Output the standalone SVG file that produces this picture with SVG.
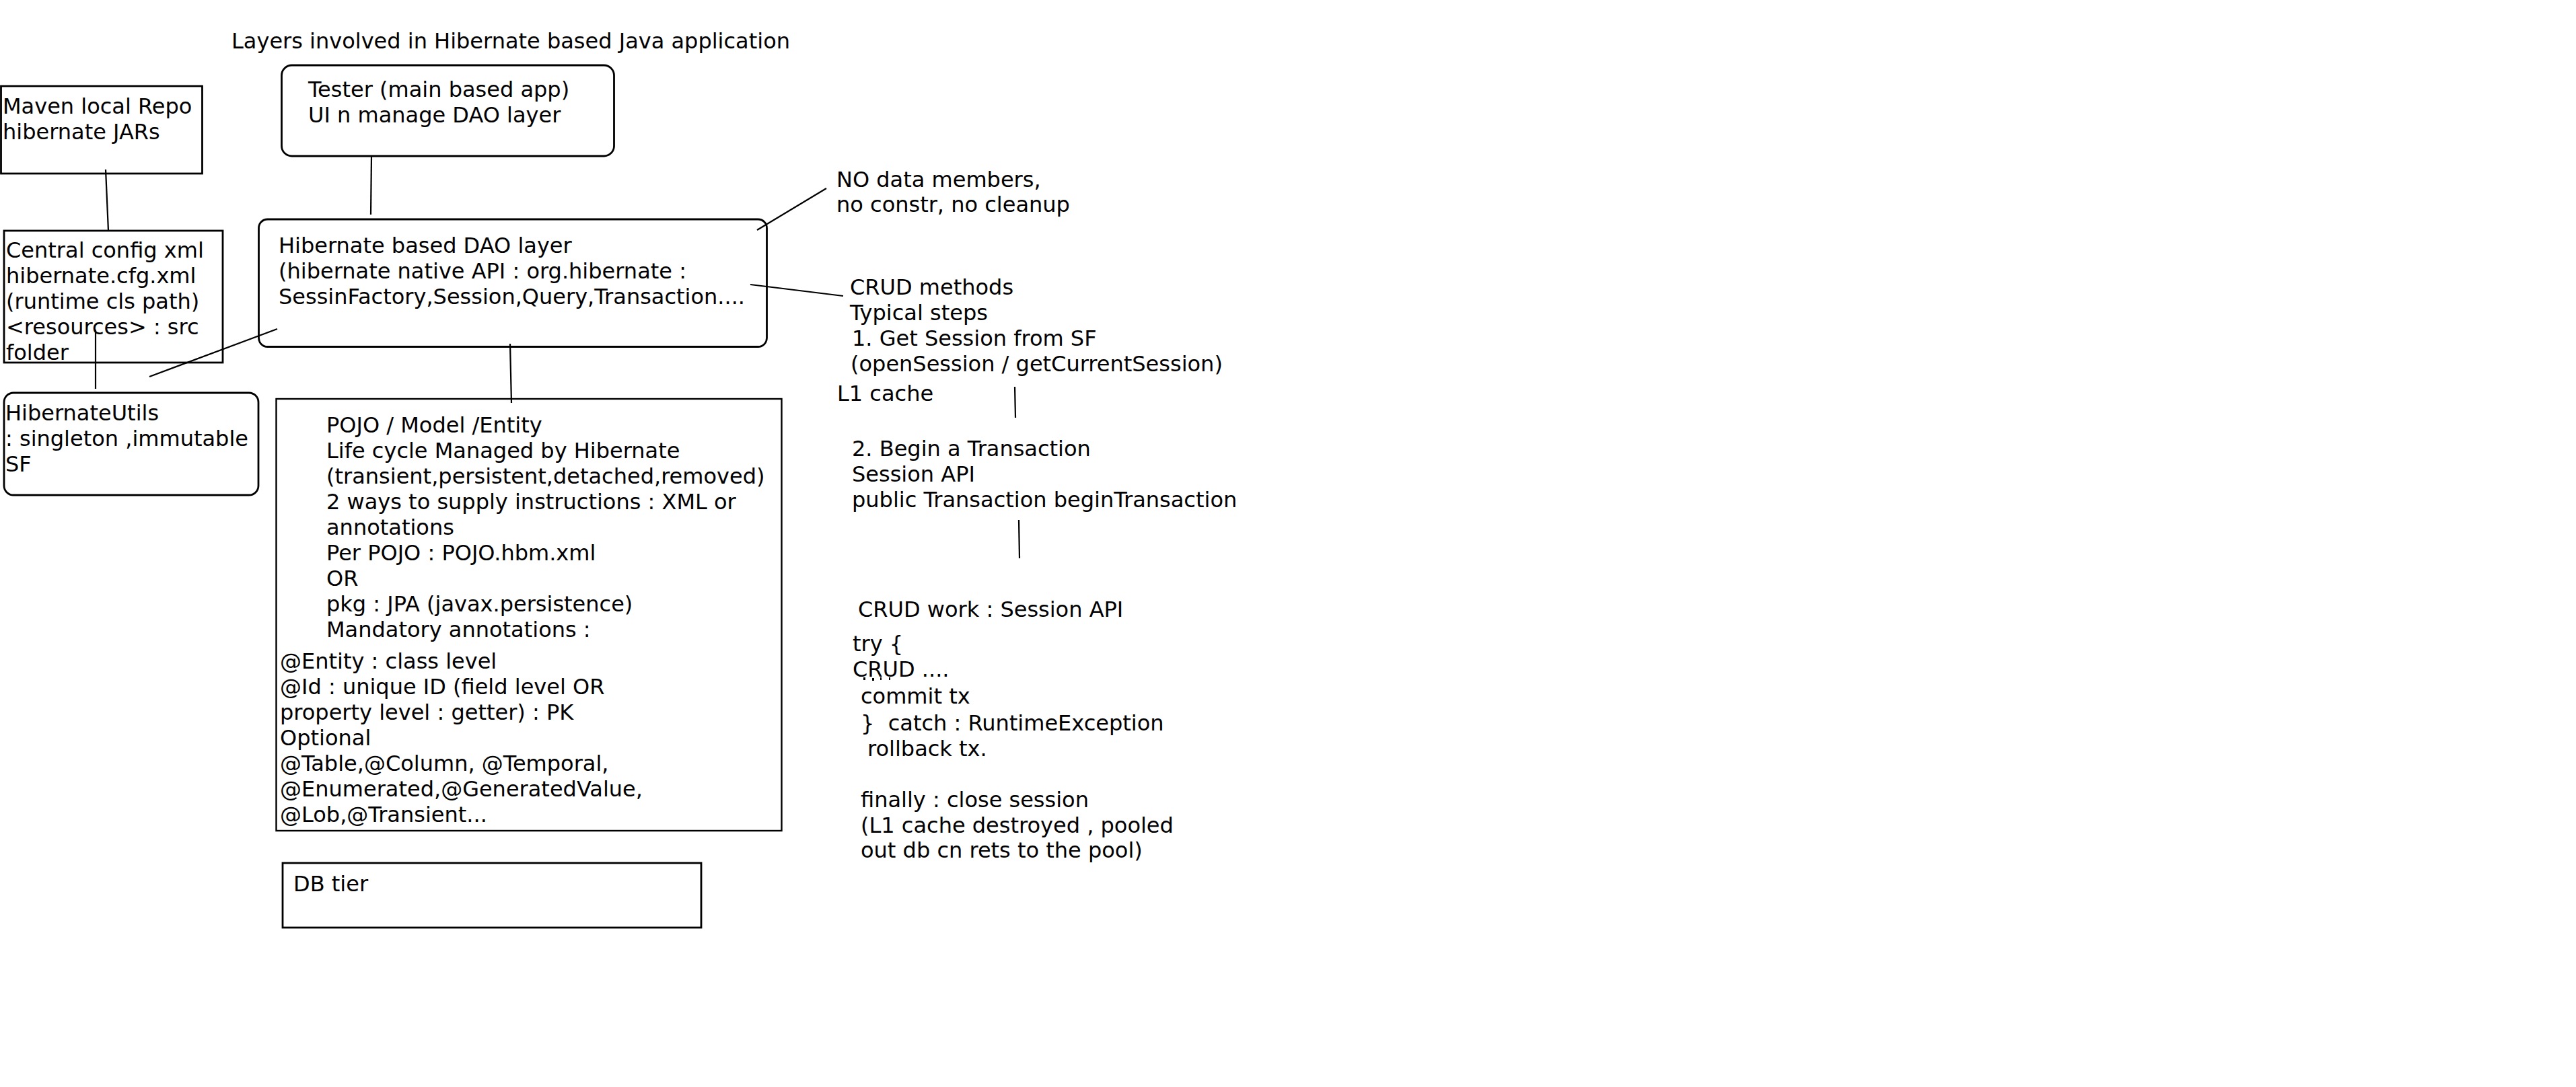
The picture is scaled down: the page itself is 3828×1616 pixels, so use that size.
<svg xmlns="http://www.w3.org/2000/svg" width="3828" height="1616" viewBox="0 0 3828 1616">
  <style>
    text { font-family: "DejaVu Sans", Verdana, sans-serif; font-size: 32px; fill: #000; white-space: pre; }
    .box { fill: none; stroke: #000; stroke-width: 2.8; }
    .thin { fill: none; stroke: #000; stroke-width: 2.4; }
    .link { fill: none; stroke: #000; stroke-width: 2.2; stroke-linecap: butt; }
    .speck { fill: #000; }
  </style>
  <rect width="3828" height="1616" fill="#fff"/>

  <text x="344" y="72">Layers involved in Hibernate based Java application</text>

  <!-- connectors between layers -->
  <g id="connectors">
    <line class="link" x1="157" y1="252" x2="161" y2="343"/>
    <line class="link" x1="552" y1="233" x2="551" y2="319"/>
    <line class="link" x1="758" y1="511" x2="760" y2="599"/>
    <line class="link" x1="142" y1="490" x2="142" y2="578"/>
    <line class="link" x1="412" y1="489" x2="222" y2="560"/>
    <line class="link" x1="1125" y1="342" x2="1228" y2="280"/>
    <line class="link" x1="1115" y1="423" x2="1253" y2="440"/>
    <line class="link" x1="1508" y1="575" x2="1509" y2="621"/>
    <line class="link" x1="1514" y1="773" x2="1515" y2="830"/>
  </g>

  <g id="maven-repo">
    <rect class="box" x="1.5" y="128" width="299" height="130"/>
    <text x="4" y="169">Maven local Repo</text>
    <text x="4" y="207">hibernate JARs</text>
  </g>

  <g id="central-config">
    <rect class="box" x="6" y="343" width="325" height="196"/>
    <text x="9" y="383">Central config xml</text>
    <text x="9" y="421">hibernate.cfg.xml</text>
    <text x="9" y="459">(runtime cls path)</text>
    <text x="9" y="497">&lt;resources&gt; : src</text>
    <text x="9" y="535">folder</text>
  </g>

  <g id="hibernate-utils">
    <rect class="box" x="6" y="584" width="378" height="152" rx="14"/>
    <text x="8" y="625">HibernateUtils</text>
    <text x="8" y="663">: singleton ,immutable</text>
    <text x="8" y="701">SF</text>
  </g>

  <g id="tester">
    <rect class="box" x="418.5" y="97" width="494" height="135" rx="15"/>
    <text x="458" y="144">Tester (main based app)</text>
    <text x="458" y="182">UI n manage DAO layer</text>
  </g>

  <g id="dao-layer">
    <rect class="box" x="384.5" y="326" width="755" height="189.5" rx="13"/>
    <text x="414" y="376">Hibernate based DAO layer</text>
    <text x="414" y="414">(hibernate native API : org.hibernate :</text>
    <text x="414" y="452">SessinFactory,Session,Query,Transaction....</text>
  </g>

  <g id="pojo-entity">
    <rect class="thin" x="410.5" y="593" width="751" height="642"/>
    <text x="485" y="643">POJO / Model /Entity</text>
    <text x="485" y="681">Life cycle Managed by Hibernate</text>
    <text x="485" y="719">(transient,persistent,detached,removed)</text>
    <text x="485" y="757">2 ways to supply instructions : XML or</text>
    <text x="485" y="795">annotations</text>
    <text x="485" y="833">Per POJO : POJO.hbm.xml</text>
    <text x="485" y="871">OR</text>
    <text x="485" y="909">pkg : JPA (javax.persistence)</text>
    <text x="485" y="947">Mandatory annotations :</text>
    <text x="416" y="994">@Entity : class level</text>
    <text x="416" y="1032">@Id : unique ID (field level OR</text>
    <text x="416" y="1070">property level : getter) : PK</text>
    <text x="416" y="1108">Optional</text>
    <text x="416" y="1146">@Table,@Column, @Temporal,</text>
    <text x="416" y="1184">@Enumerated,@GeneratedValue,</text>
    <text x="416" y="1222">@Lob,@Transient...</text>
  </g>

  <g id="db-tier">
    <rect class="box" x="420" y="1283" width="622" height="96"/>
    <text x="436" y="1325">DB tier</text>
  </g>

  <g id="dao-note">
    <text x="1243" y="278">NO data members,</text>
    <text x="1243" y="315">no constr, no cleanup</text>
  </g>

  <g id="crud-steps">
    <text x="1263" y="438">CRUD methods</text>
    <text x="1263" y="476">Typical steps</text>
    <text x="1266" y="514">1. Get Session from SF</text>
    <text x="1264" y="552">(openSession / getCurrentSession)</text>
    <text x="1244" y="596">L1 cache</text>
    <text x="1266" y="678">2. Begin a Transaction</text>
    <text x="1266" y="716">Session API</text>
    <text x="1266" y="754">public Transaction beginTransaction</text>
  </g>

  <g id="crud-work">
    <text x="1275" y="917">CRUD work : Session API</text>
    <text x="1267" y="968">try {</text>
    <text x="1267" y="1006">CRUD ....</text>
    <!-- stray ink specks just under the CRUD line -->
    <rect class="speck" x="1283" y="1007" width="3" height="4"/>
    <rect class="speck" x="1296" y="1008" width="3" height="4"/>
    <rect class="speck" x="1308" y="1007" width="2" height="4"/>
    <rect class="speck" x="1321" y="1007" width="2" height="4"/>
    <text x="1279" y="1046">commit tx</text>
    <text x="1279" y="1086">}  catch : RuntimeException</text>
    <text x="1289" y="1124">rollback tx.</text>
    <text x="1279" y="1200">finally : close session</text>
    <text x="1279" y="1238">(L1 cache destroyed , pooled</text>
    <text x="1279" y="1275">out db cn rets to the pool)</text>
  </g>
</svg>
